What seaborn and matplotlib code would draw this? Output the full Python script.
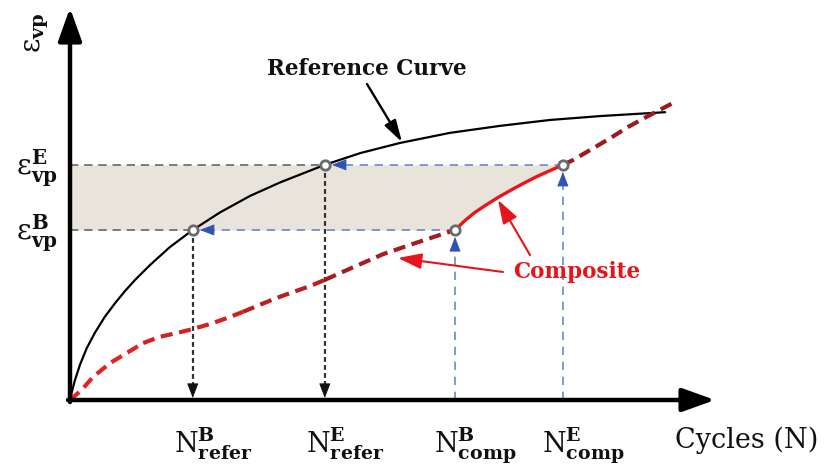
import matplotlib
matplotlib.use("Agg")
import matplotlib.pyplot as plt
import seaborn as sns

# ---- data (cycles / visco-plastic strain, arbitrary units) ----
ref_cycles = [0.00, 0.03, 0.08, 0.16, 0.27, 0.40, 0.56, 0.73, 0.89, 1.05, 1.29, 1.61,
              1.98, 2.42, 2.90, 3.39, 3.71, 4.11, 4.68, 5.32, 6.13, 6.94, 7.74, 8.55, 9.60]
ref_strain = [0.00, 0.21, 0.51, 0.90, 1.33, 1.72, 2.13, 2.49, 2.80, 3.08, 3.46, 3.92,
              4.36, 4.81, 5.23, 5.58, 5.78, 6.03, 6.33, 6.59, 6.85, 7.03, 7.18, 7.28, 7.38]

comp_cycles = [0.00, 0.19, 0.37, 0.65, 0.92, 1.18, 1.45, 1.73, 1.98, 2.26, 2.53,
               2.79, 3.06, 3.34, 3.60, 3.87, 4.11, 4.52, 5.05, 5.60, 6.21]
comp_strain = [0.00, 0.26, 0.59, 0.95, 1.21, 1.46, 1.62, 1.72, 1.82, 1.95, 2.10,
               2.26, 2.44, 2.62, 2.77, 2.92, 3.08, 3.37, 3.74, 4.04, 4.36]

tail_cycles = [7.95, 8.11, 8.39, 8.71, 9.00, 9.30, 9.73]
tail_strain = [6.03, 6.15, 6.41, 6.71, 7.00, 7.26, 7.62]

seg_cycles = [6.21, 6.37, 6.53, 6.71, 6.90, 7.11, 7.32, 7.53, 7.74, 7.95]
seg_strain = [4.36, 4.60, 4.81, 5.00, 5.19, 5.38, 5.56, 5.73, 5.88, 6.03]

eps_levels = [4.36, 6.03]                 # B, E
n_refer = [1.98, 4.11]                    # B, E
n_comp = [6.21, 7.95]                     # B, E
n_labels = [r"$\mathrm{N}^{\mathbf{B}}_{\mathbf{refer}}$",
            r"$\mathrm{N}^{\mathbf{E}}_{\mathbf{refer}}$",
            r"$\mathrm{N}^{\mathbf{B}}_{\mathbf{comp}}$",
            r"$\mathrm{N}^{\mathbf{E}}_{\mathbf{comp}}$"]
eps_labels = [r"$\mathrm{ε}^{\mathbf{B}}_{\mathbf{vp}}$",
              r"$\mathrm{ε}^{\mathbf{E}}_{\mathbf{vp}}$"]

# ---- style ----
sns.set_theme(style="white")
plt.rcParams["font.family"] = ["DejaVu Serif"]
plt.rcParams["mathtext.fontset"] = "custom"
plt.rcParams["mathtext.rm"] = "DejaVu Serif"
plt.rcParams["mathtext.it"] = "DejaVu Serif:italic"
plt.rcParams["mathtext.bf"] = "DejaVu Serif:bold"

fig = plt.figure(figsize=(8.25, 4.66), dpi=100)
ax = fig.add_axes([0, 0, 1, 1])
ax.set_xlim(-70 / 62, 755 / 62)
ax.set_ylim(-66 / 39, 400 / 39)
ax.axis("off")

DX, DY = 1 / 62, 1 / 39   # one pixel in data units


def head(tip, tail, color, length=13, width=5):
    ax.annotate("", xy=tip, xytext=tail,
                arrowprops=dict(arrowstyle=f"-|>,head_length={length/10:.2f},head_width={width/10:.2f}",
                                color=color, lw=0.6, shrinkA=0, shrinkB=0,
                                mutation_scale=10 * 0.72), zorder=6)


# shaded strain band bounded by the composite segment
ax.fill_betweenx(seg_strain, 0, seg_cycles, color="#e8e4dc", lw=0, zorder=1)

# grey guides from the strain axis to the reference curve
for e, n in zip(eps_levels, n_refer):
    ax.plot([0, n], [e, e], color="#666666", lw=1.2, dashes=(5, 3.5), zorder=2)
    # dotted drop lines to the cycle axis
    ax.plot([n, n], [e, 13 * DY], color="#333333", lw=1.6, dashes=(2.2, 1.4), zorder=2)
    head((n, 2 * DY), (n, 14 * DY), "#111111", length=13, width=5)

# blue guides from the composite segment back to the reference curve
blue_line, blue_head = "#6a87c8", "#2f52b4"
for e, nr, nc in zip(eps_levels, n_refer, n_comp):
    ax.plot([nc, nc], [0, e - 19 * DY], color=blue_line, lw=1.2, dashes=(5, 4), zorder=2)
    head((nc, e - 7 * DY), (nc, e - 20 * DY), blue_head, length=13, width=5)
    ax.plot([nc, nr + 19 * DX], [e, e], color=blue_line, lw=1.2, dashes=(5, 4), zorder=2)
    head((nr + 7 * DX, e), (nr + 20 * DX, e), blue_head, length=13, width=5)

# reference curve
sns.lineplot(x=ref_cycles, y=ref_strain, ax=ax, sort=False, estimator=None,
             color="black", lw=1.6, zorder=4)

# composite curve, dashed, darkening with cycles
pieces = [(0, 5, "#e42320"), (5, 11, "#d02321"), (11, 16, "#ba1f1f"), (16, 20, "#a71c1c")]
for i0, i1, col in pieces:
    sns.lineplot(x=comp_cycles[i0:i1 + 1], y=comp_strain[i0:i1 + 1], ax=ax, sort=False,
                 estimator=None, color=col, lw=3.0, linestyle=(0, (2.9, 1.6)), zorder=4)
sns.lineplot(x=tail_cycles, y=tail_strain, ax=ax, sort=False, estimator=None,
             color="#9c1a1a", lw=3.0, linestyle=(0, (2.9, 1.6)), zorder=4)

# composite test segment
sns.lineplot(x=seg_cycles, y=seg_strain, ax=ax, sort=False, estimator=None,
             color="#e8161c", lw=2.4, zorder=5)

# start / end markers
sns.scatterplot(x=n_refer + n_comp, y=eps_levels + eps_levels, ax=ax, s=46,
                facecolor="white", edgecolor="#6a6a6a", linewidth=2.0, zorder=7)

# axes with arrow heads
ax.annotate("", xy=(645 * DX, 0), xytext=(-2 * DX, 0),
            arrowprops=dict(arrowstyle="-|>,head_length=1.0,head_width=0.36", lw=3.2,
                            color="black", shrinkA=0, shrinkB=0, mutation_scale=20), zorder=8)
ax.annotate("", xy=(0, 392 * DY), xytext=(0, -2 * DY),
            arrowprops=dict(arrowstyle="-|>,head_length=1.0,head_width=0.36", lw=3.2,
                            color="black", shrinkA=0, shrinkB=0, mutation_scale=20), zorder=8)

# axis labels
ax.text(605 * DX, -48 * DY, "Cycles (N)", fontsize=19.5, ha="left", va="baseline", color="#111111")
ax.text(-33 * DX, 367 * DY, r"$\mathrm{ε}_{\mathbf{vp}}$", fontsize=20, rotation=90,
        ha="center", va="center", color="#111111")

for n, lab in zip(n_refer + n_comp, n_labels):
    ax.text(n + 20 * DX, -52 * DY, lab, fontsize=19.5, ha="center", va="baseline", color="#111111")
for e, lab in zip(eps_levels, eps_labels):
    ax.text(-12 * DX, e - 10 * DY, lab, fontsize=20.5, ha="right", va="baseline", color="#111111")

# annotations
ax.text(297 * DX, 325 * DY, "Reference Curve", fontsize=15.5, fontweight="bold",
        ha="center", va="baseline", color="#111111")
ax.annotate("", xy=(332 * DX, 258 * DY), xytext=(297 * DX, 316 * DY),
            arrowprops=dict(arrowstyle="-|>,head_length=1.1,head_width=0.32", lw=1.7,
                            color="black", shrinkA=0, shrinkB=0, mutation_scale=12), zorder=6)

ax.text(507 * DX, 122 * DY, "Composite", fontsize=15.5, fontweight="bold",
        ha="center", va="baseline", color="#e8141c")
ax.annotate("", xy=(428 * DX, 200 * DY), xytext=(460 * DX, 145 * DY),
            arrowprops=dict(arrowstyle="-|>,head_length=1.2,head_width=0.4", lw=1.5,
                            color="#e8141c", shrinkA=0, shrinkB=0, mutation_scale=12), zorder=6)
ax.annotate("", xy=(328 * DX, 142 * DY), xytext=(433 * DX, 128 * DY),
            arrowprops=dict(arrowstyle="-|>,head_length=1.2,head_width=0.4", lw=1.5,
                            color="#e8141c", shrinkA=0, shrinkB=0, mutation_scale=12), zorder=6)

fig.savefig("out.png", dpi=100, facecolor="white")
